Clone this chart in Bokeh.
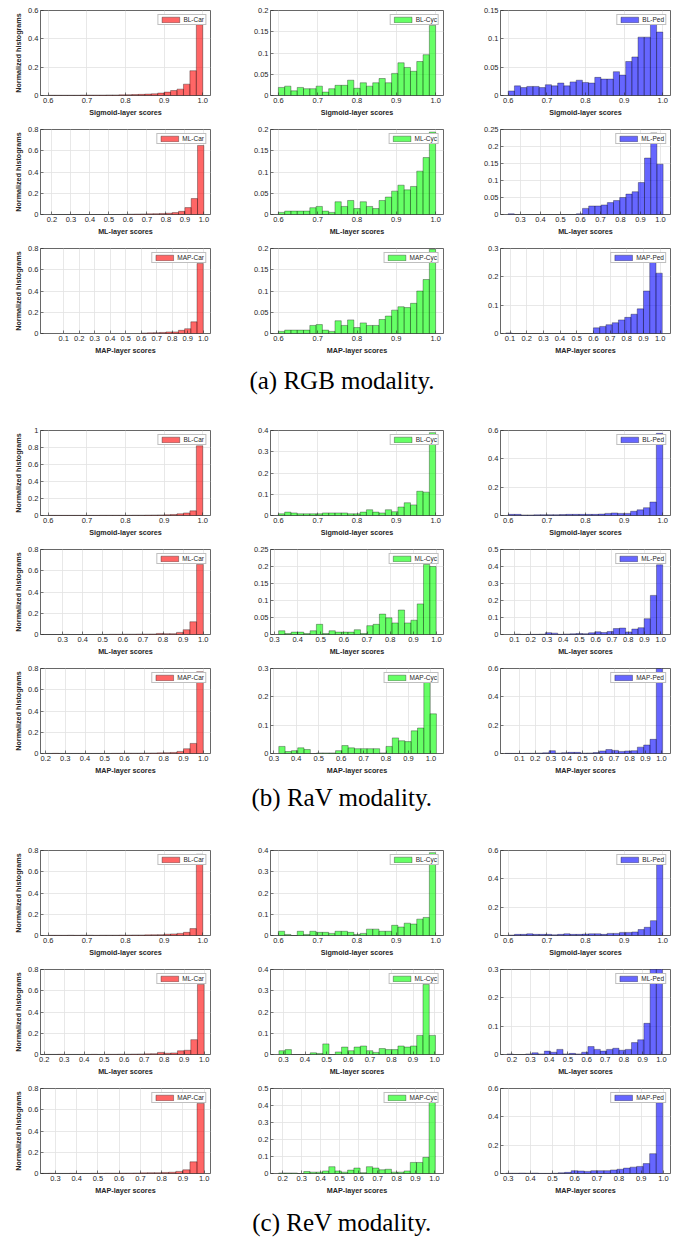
from bokeh.plotting import figure
from bokeh.layouts import column, row
from bokeh.models import (Range1d, FixedTicker, CustomJSTickFormatter, ColumnDataSource,
                          Legend, LegendItem, Label)
from bokeh.embed import file_html
from bokeh.resources import INLINE

# ---------------- data ----------------
captions = ["(a) RGB modality.", "(b) RaV modality.", "(c) ReV modality."]
layers = ["BL", "ML", "MAP"]
axis_titles = ["Sigmoid-layer scores", "ML-layer scores", "MAP-layer scores"]
classes = ["Car", "Cyc", "Ped"]
class_colors = ["#ff0000", "#00ff00", "#0000ff"]

# RGB modality
rgb_bl_car = [0.002,0.002,0.002,0.002,0.002,0.003,0.003,0.003,0.003,0.004,0.004,0.005,0.006,0.007,0.008,0.010,0.012,0.017,0.024,0.035,0.045,0.080,0.175,0.50]
rgb_bl_cyc = [0.019,0.022,0.011,0.019,0.016,0.016,0.022,0.008,0.016,0.024,0.024,0.036,0.017,0.030,0.022,0.030,0.040,0.030,0.052,0.077,0.066,0.057,0.080,0.096,0.165]
rgb_bl_ped = [0.008,0.017,0.014,0.016,0.016,0.014,0.019,0.017,0.022,0.017,0.024,0.027,0.023,0.022,0.032,0.029,0.029,0.042,0.036,0.060,0.068,0.103,0.103,0.126,0.112]
rgb_ml_car = [0,0,0,0,0,0,0,0,0,0,0,0.001,0.003,0.004,0.005,0.006,0.008,0.010,0.012,0.018,0.030,0.065,0.150,0.650]
rgb_ml_cyc = [0.005,0.008,0.008,0.008,0.008,0.016,0.019,0.008,0.005,0.030,0.019,0.033,0.014,0.030,0.019,0.014,0.033,0.041,0.055,0.069,0.058,0.066,0.102,0.134,0.194]
rgb_ml_ped = [0.002,0,0,0,0,0,0,0,0,0,0,0.002,0.018,0.025,0.025,0.028,0.035,0.041,0.050,0.060,0.067,0.094,0.166,0.240,0.148]
rgb_map_car = [0.004,0.006,0.008,0.010,0.015,0.015,0.030,0.045,0.110,0.660]
rgb_map_cyc = [0.005,0.008,0.008,0.008,0.008,0.019,0.021,0.008,0.005,0.030,0.019,0.032,0.014,0.025,0.019,0.019,0.033,0.041,0.055,0.063,0.061,0.071,0.100,0.127,0.198]
rgb_map_ped = [0.002,0,0,0,0,0,0,0,0,0,0,0,0,0,0.020,0.025,0.031,0.038,0.048,0.057,0.068,0.087,0.150,0.260,0.213]

# RaV modality
rav_bl_car = [0.002,0.002,0.002,0.002,0.002,0.002,0.002,0.002,0.003,0.003,0.003,0.003,0.003,0.004,0.004,0.005,0.006,0.007,0.009,0.012,0.020,0.030,0.055,0.820]
rav_bl_cyc = [0.008,0.016,0.012,0.008,0.008,0.008,0.008,0.012,0.012,0.012,0.012,0.008,0.008,0.016,0.027,0.016,0.012,0.027,0.018,0.040,0.060,0.050,0.114,0.110,0.390]
rav_bl_ped = [0.008,0.008,0.004,0.004,0.005,0.006,0.006,0.006,0.007,0.008,0.008,0.008,0.008,0.008,0.010,0.015,0.018,0.015,0.015,0.030,0.040,0.055,0.095,0.580]
rav_ml_car = [0,0,0,0.001,0,0,0,0,0.001,0.001,0.002,0.002,0.003,0.003,0.004,0.004,0.005,0.010,0.008,0.008,0.020,0.045,0.120,0.660]
rav_ml_cyc = [0.011,0.003,0.007,0.007,0.003,0.011,0.030,0.003,0.011,0.007,0.007,0.007,0.014,0.003,0.026,0.030,0.060,0.049,0.034,0.072,0.034,0.042,0.090,0.206,0.200]
rav_ml_ped = [0.002,0,0.001,0.001,0.002,0.011,0.008,0.001,0.003,0.004,0.006,0.005,0.010,0.016,0.012,0.018,0.035,0.038,0.015,0.032,0.040,0.093,0.230,0.410]
rav_map_car = [0.001,0.002,0.001,0.001,0.001,0.001,0.001,0.001,0.001,0.001,0.002,0.002,0.003,0.003,0.003,0.004,0.005,0.006,0.008,0.010,0.020,0.045,0.095,0.770]
rav_map_cyc = [0.025,0.007,0.010,0.020,0.014,0,0.002,0.002,0.002,0.010,0.028,0.020,0.017,0.017,0.017,0.017,0.002,0.025,0.055,0.045,0.042,0.080,0.090,0.255,0.140]
rav_map_ped = [0.001,0.001,0.001,0.002,0.002,0.003,0.005,0.020,0.003,0.006,0.008,0.008,0.003,0.004,0.007,0.018,0.028,0.022,0.015,0.018,0.020,0.045,0.060,0.100,0.600]

# ReV modality
rev_bl_car = [0.002,0.002,0.002,0.003,0.002,0.003,0.003,0.002,0.003,0.003,0.003,0.004,0.004,0.005,0.005,0.006,0.007,0.008,0.012,0.015,0.020,0.030,0.065,0.765]
rev_bl_cyc = [0.020,0.005,0,0.020,0.005,0.020,0.015,0.015,0.010,0.020,0.020,0.015,0.005,0.010,0.030,0.030,0.020,0.020,0.048,0.040,0.058,0.054,0.077,0.085,0.390]
rev_bl_ped = [0.003,0.008,0.008,0.012,0.008,0.008,0.008,0.005,0.008,0.012,0.008,0.008,0.010,0.012,0.012,0.008,0.015,0.015,0.022,0.022,0.025,0.042,0.058,0.105,0.500]
rev_ml_car = [0.001,0.001,0.002,0.001,0.001,0.001,0.001,0.002,0.001,0.002,0.002,0.003,0.003,0.004,0.005,0.006,0.008,0.020,0.012,0.015,0.035,0.040,0.140,0.660]
rev_ml_cyc = [0.018,0.023,0,0,0,0.008,0.005,0.050,0,0.012,0.035,0.018,0.035,0.040,0.018,0.010,0.028,0.023,0.023,0.040,0.035,0.040,0.090,0.330,0.090]
rev_ml_ped = [0.002,0,0,0.002,0.006,0.002,0.012,0.008,0.018,0.002,0.004,0.002,0.008,0.028,0.018,0.012,0.018,0.022,0.015,0.018,0.042,0.052,0.110,0.310,0.310]
rev_map_car = [0.001,0.002,0.001,0.001,0.002,0.001,0.001,0.002,0.002,0.003,0.003,0.004,0.004,0.005,0.006,0.008,0.008,0.010,0.012,0.020,0.035,0.110,0.660]
rev_map_cyc = [0.003,0.003,0.003,0,0.012,0.008,0.008,0.015,0.040,0.015,0.008,0.020,0.032,0.005,0.040,0.032,0.022,0.025,0.008,0.008,0.015,0.065,0.065,0.095,0.430]
rev_map_ped = [0.002,0.002,0.003,0.002,0.003,0.001,0.001,0.002,0.005,0.008,0.020,0.018,0.015,0.020,0.020,0.020,0.025,0.030,0.038,0.045,0.050,0.070,0.140,0.500]

heights = [
    [[rgb_bl_car, rgb_bl_cyc, rgb_bl_ped], [rgb_ml_car, rgb_ml_cyc, rgb_ml_ped], [rgb_map_car, rgb_map_cyc, rgb_map_ped]],
    [[rav_bl_car, rav_bl_cyc, rav_bl_ped], [rav_ml_car, rav_ml_cyc, rav_ml_ped], [rav_map_car, rav_map_cyc, rav_map_ped]],
    [[rev_bl_car, rev_bl_cyc, rev_bl_ped], [rev_ml_car, rev_ml_cyc, rev_ml_ped], [rev_map_car, rev_map_cyc, rev_map_ped]],
]

# histogram bin starts / widths  [modality][layer][class]
bin_start = [
    [[0.6, 0.6, 0.6], [0.2, 0.6, 0.238], [0.6, 0.6, 0.075]],
    [[0.6, 0.6, 0.6], [0.2, 0.318, 0.1], [0.2, 0.322, 0.008]],
    [[0.6, 0.6, 0.6], [0.2, 0.279, 0.174], [0.2333, 0.179, 0.289]],
]
bin_width = [
    [[1/60, 0.016, 0.016], [1/30, 0.016, 0.031], [0.04, 0.016, 0.0375]],
    [[1/60, 0.016, 1/60], [1/30, 0.0272, 0.038], [1/30, 0.0281, 0.04]],
    [[1/60, 0.016, 0.016], [1/30, 0.029, 0.0333], [1/30, 0.033, 0.0295]],
]
# axis limits and first x tick
x_min = [
    [[0.58, 0.58, 0.58], [0.14, 0.58, 0.2], [-0.05, 0.58, 0.043]],
    [[0.58, 0.58, 0.58], [0.19, 0.283, 0.014], [0.174, 0.285, -0.02]],
    [[0.58, 0.58, 0.58], [0.181, 0.24, 0.139], [0.23, 0.136, 0.265]],
]
x_max = [
    [[1.02, 1.02, 1.02], [1.035, 1.02, 1.05], [1.047, 1.02, 1.062]],
    [[1.02, 1.02, 1.02], [1.036, 1.03, 1.06], [1.037, 1.056, 1.058]],
    [[1.02, 1.02, 1.02], [1.032, 1.041, 1.049], [1.03, 1.047, 1.032]],
]
x_tick_first = [
    [[0.6, 0.6, 0.6], [0.2, 0.6, 0.3], [0.1, 0.6, 0.1]],
    [[0.6, 0.6, 0.6], [0.3, 0.3, 0.1], [0.2, 0.3, 0.1]],
    [[0.6, 0.6, 0.6], [0.2, 0.3, 0.2], [0.3, 0.2, 0.3]],
]
y_max = [
    [[0.6, 0.2, 0.15], [0.8, 0.2, 0.25], [0.8, 0.2, 0.3]],
    [[1.0, 0.4, 0.6], [0.8, 0.25, 0.5], [0.8, 0.3, 0.6]],
    [[0.8, 0.4, 0.6], [0.8, 0.4, 0.3], [0.8, 0.5, 0.6]],
]
y_step = [
    [[0.2, 0.05, 0.05], [0.2, 0.05, 0.05], [0.2, 0.05, 0.1]],
    [[0.2, 0.1, 0.2], [0.2, 0.05, 0.1], [0.2, 0.1, 0.2]],
    [[0.2, 0.1, 0.2], [0.2, 0.1, 0.1], [0.2, 0.1, 0.2]],
]

# ---------------- styling / layout ----------------
FONT = "Liberation Sans"
TXT = "#262626"
COL_W = [228, 230, 225]
BORDER_L = [40, 42, 42]
BORDER_R = [18, 15, 13]
ROW_H = 119
CAP_H = [63, 63, 40]
CAP_Y = [40, 43, 15]

x_fmt = CustomJSTickFormatter(code="return tick.toFixed(1);")
y_fmt = CustomJSTickFormatter(code="return String(Math.round(tick*1000)/1000);")


def make_panel(m, l, c):
    h = heights[m][l][c]
    s = bin_start[m][l][c]
    w = bin_width[m][l][c]
    left = [s + i * w for i in range(len(h))]
    right = [s + (i + 1) * w for i in range(len(h))]
    src = ColumnDataSource(dict(left=left, right=right, top=h))

    p = figure(width=COL_W[c], height=ROW_H,
               x_range=Range1d(x_min[m][l][c], x_max[m][l][c]),
               y_range=Range1d(0, y_max[m][l][c]),
               toolbar_location=None, output_backend="svg",
               min_border_left=BORDER_L[c], min_border_right=BORDER_R[c],
               min_border_top=10, min_border_bottom=22)
    p.background_fill_color = "white"
    p.border_fill_color = "white"
    p.outline_line_color = "#404040"
    p.outline_line_width = 0.8

    r = p.quad(left="left", right="right", bottom=0, top="top", source=src,
               fill_color=class_colors[c], fill_alpha=0.6,
               line_color="black", line_alpha=0.55, line_width=0.6)

    xt0 = x_tick_first[m][l][c]
    xticks = []
    k = 0
    while round(xt0 + 0.1 * k, 2) <= 1.0001:
        xticks.append(round(xt0 + 0.1 * k, 2))
        k += 1
    ys = y_step[m][l][c]
    nyt = int(round(y_max[m][l][c] / ys))
    yticks = [round(ys * i, 3) for i in range(nyt + 1)]

    p.xaxis.ticker = FixedTicker(ticks=xticks)
    p.yaxis.ticker = FixedTicker(ticks=yticks)
    p.xaxis.formatter = x_fmt
    p.yaxis.formatter = y_fmt
    p.xgrid.ticker = FixedTicker(ticks=xticks)
    p.ygrid.ticker = FixedTicker(ticks=yticks)
    p.grid.grid_line_color = "#e2e2e2"
    p.grid.grid_line_width = 0.8

    for ax in (p.xaxis[0], p.yaxis[0]):
        ax.axis_line_color = None
        ax.major_tick_in = 3
        ax.major_tick_out = 0
        ax.minor_tick_line_color = None
        ax.major_tick_line_color = TXT
        ax.major_tick_line_width = 0.6
        ax.major_label_text_font = FONT
        ax.major_label_text_font_size = "7.5px"
        ax.major_label_text_color = TXT
        ax.major_label_standoff = 2
        ax.axis_label_text_font = FONT
        ax.axis_label_text_font_size = "7.2px"
        ax.axis_label_text_font_style = "bold"
        ax.axis_label_text_color = TXT
        ax.axis_label_standoff = 2

    p.xaxis.axis_label = axis_titles[l]
    if c == 0:
        p.yaxis.axis_label = "Normalized histograms"

    legend = Legend(items=[LegendItem(label=f"{layers[l]}-{classes[c]}", renderers=[r])],
                    location="top_right")
    legend.label_text_font = FONT
    legend.label_text_font_size = "6.5px"
    legend.label_text_color = TXT
    legend.label_height = 7
    legend.label_standoff = 2
    legend.glyph_width = 22
    legend.glyph_height = 7
    legend.padding = 1
    legend.spacing = 0
    legend.margin = 4
    legend.border_line_color = "#808080"
    legend.border_line_width = 1
    legend.background_fill_alpha = 1.0
    p.add_layout(legend)
    return p


def make_caption(m):
    p = figure(width=683, height=CAP_H[m], x_range=(0, 1), y_range=(0, 1),
               toolbar_location=None, output_backend="svg", min_border=0)
    p.axis.visible = False
    p.grid.visible = False
    p.outline_line_color = None
    p.add_layout(Label(x=341.5, y=CAP_Y[m], x_units="screen", y_units="screen",
                       text=captions[m], text_align="center", text_baseline="middle",
                       text_font="Liberation Serif", text_font_size="25px",
                       text_color="black"))
    return p


children = []
for m in range(3):
    for l in range(3):
        children.append(row(*[make_panel(m, l, c) for c in range(3)], spacing=0))
    children.append(make_caption(m))

layout = column(*children, spacing=0)

open("out.html", "w").write(file_html(layout, INLINE))
